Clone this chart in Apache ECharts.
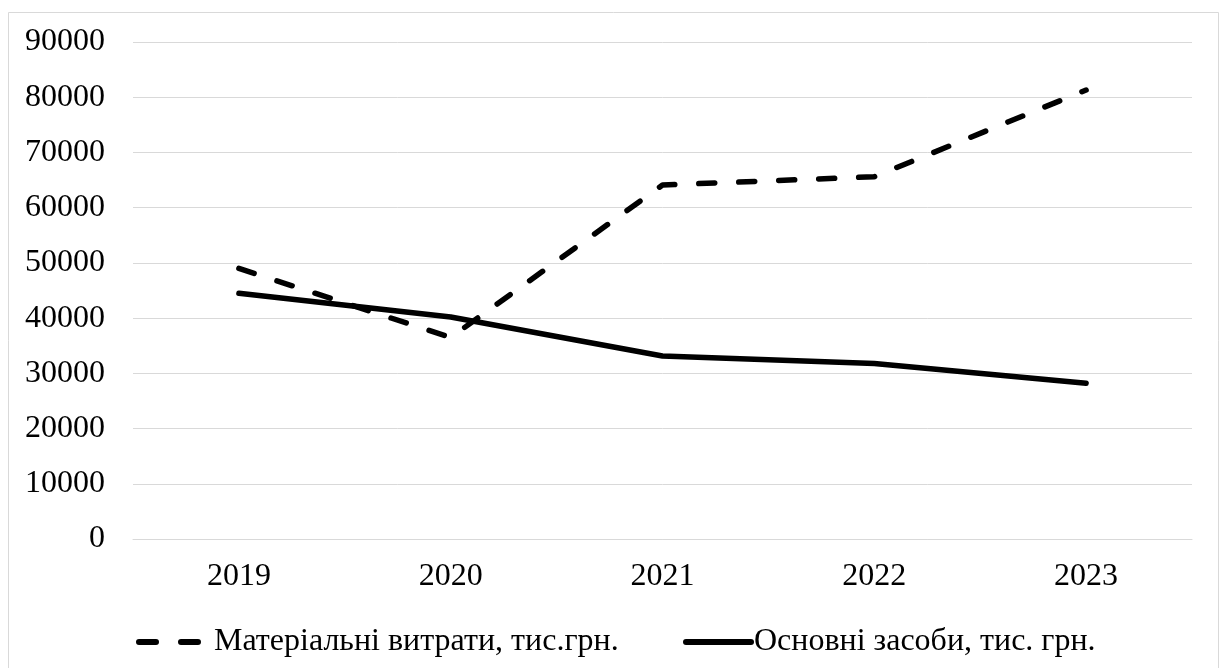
<!DOCTYPE html>
<html>
<head>
<meta charset="utf-8">
<script src="https://cdn.jsdelivr.net/npm/echarts@6/dist/echarts.min.js"></script>
<style>
html,body{margin:0;padding:0;background:#fff;}
#chart{width:1224px;height:668px;}
</style>
</head>
<body>
<div id="chart"></div>
<script>
const categories = ['2019', '2020', '2021', '2022', '2023'];
const materialCosts = [49000, 36500, 64100, 65600, 81300];
const fixedAssets = [44500, 40200, 33150, 31800, 28200];
const seriesNames = ['Матеріальні витрати, тис.грн.', 'Основні засоби, тис. грн.'];

const FONT = '"Liberation Serif", "Times New Roman", serif';
const dashIcon = 'path://M3,0 h17 a3,3 0 0 1 0,6 h-17 a3,3 0 0 1 0,-6 Z M45,0 h17 a3,3 0 0 1 0,6 h-17 a3,3 0 0 1 0,-6 Z';
const solidIcon = 'path://M3,0 h65 a3,3 0 0 1 0,6 h-65 a3,3 0 0 1 0,-6 Z';

const chart = echarts.init(document.getElementById('chart'));
chart.setOption({
  backgroundColor: '#fff',
  animation: false,
  textStyle: { fontFamily: FONT },
  graphic: [{
    type: 'rect',
    shape: { x: 8.5, y: 12.5, width: 1210, height: 680 },
    style: { fill: 'none', stroke: '#d9d9d9', lineWidth: 1 },
    silent: true, z: -1
  }],
  grid: { left: 133, right: 32, top: 42, bottom: 129, containLabel: false },
  legend: [{
    data: [{ name: seriesNames[0], icon: dashIcon }],
    left: 136, top: 626,
    itemWidth: 65, itemHeight: 6, itemGap: 0,
    symbolKeepAspect: false,
    itemStyle: { color: '#000', borderWidth: 0 },
    textStyle: { fontFamily: FONT, fontSize: 32, color: '#000', padding: [0, 0, 0, 8] },
    padding: 0
  }, {
    data: [{ name: seriesNames[1], icon: solidIcon }],
    left: 683, top: 626,
    itemWidth: 71, itemHeight: 6,
    symbolKeepAspect: false,
    itemStyle: { color: '#000', borderWidth: 0 },
    textStyle: { fontFamily: FONT, fontSize: 32, color: '#000', padding: [0, 0, 0, -5] },
    padding: 0
  }],
  xAxis: {
    type: 'category',
    data: categories,
    boundaryGap: true,
    axisLine: { lineStyle: { color: '#d9d9d9', width: 1 } },
    axisTick: { show: false },
    axisLabel: { fontFamily: FONT, fontSize: 32, color: '#000', margin: 22 }
  },
  yAxis: {
    type: 'value',
    min: 0, max: 90000, interval: 10000,
    axisLine: { show: false },
    axisTick: { show: false },
    splitLine: { lineStyle: { color: '#d9d9d9', width: 1 } },
    axisLabel: { fontFamily: FONT, fontSize: 32, color: '#000', margin: 28, formatter: v => String(v) }
  },
  series: [{
    name: seriesNames[0],
    type: 'line',
    data: materialCosts,
    symbol: 'none',
    lineStyle: { color: '#000', width: 5.5, type: [16, 24], cap: 'round' },
    itemStyle: { color: '#000' }
  }, {
    name: seriesNames[1],
    type: 'line',
    data: fixedAssets,
    symbol: 'none',
    lineStyle: { color: '#000', width: 5.5, cap: 'round' },
    itemStyle: { color: '#000' }
  }]
});
</script>
</body>
</html>
